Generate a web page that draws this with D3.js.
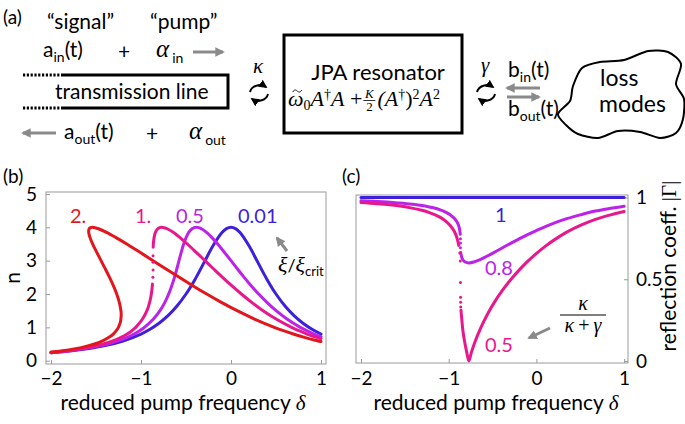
<!DOCTYPE html>
<html><head><meta charset="utf-8">
<script src="https://cdn.jsdelivr.net/npm/d3@7"></script>
<style>
body{margin:0;background:#fff;}
svg{display:block;}
text{font-family:Lato,"Open Sans",sans-serif;}
</style>
</head><body>
<svg id="chart" width="685" height="424"></svg>
<script>
// ---------------- DATA ----------------
const xTicks = [-2, -1, 0, 1];
const nTicks = [0, 1, 2, 3, 4, 5];
const gammaTicks = [0, 0.5, 1];
const gammaTickLabels = ["0", "0.5", "1"];
const xiLabels = ["0.01", "0.5", "1.", "2."];
const etaLabels = ["1", "0.8", "0.5"];

// panel (b): photon number n vs reduced pump frequency delta, [delta, n]
const nXi001 = [[-2.0,0.235],[-1.8,0.287],[-1.6,0.356],[-1.4,0.452],[-1.2,0.592],[-1.0,0.8],[-0.9,0.943],[-0.8,1.124],[-0.7,1.351],[-0.6,1.639],[-0.5,2.0],[-0.4,2.439],[-0.3,2.941],[-0.2,3.448],[-0.1,3.846],[-0.05,3.96],[0,4.0],[0.05,3.96],[0.1,3.846],[0.2,3.448],[0.3,2.941],[0.4,2.439],[0.5,2.0],[0.6,1.639],[0.7,1.351],[0.8,1.124],[0.9,0.943],[1.0,0.8]];
const nXi05 = [[-2.0,0.24],[-1.785,0.3],[-1.5385,0.4],[-1.371,0.5],[-1.248,0.6],[-1.153,0.7],[-1.077,0.8],[-1.015,0.9],[-0.962,1.0],[-0.862,1.25],[-0.789,1.5],[-0.735,1.75],[-0.6925,2.0],[-0.658,2.25],[-0.628,2.5],[-0.602,2.75],[-0.578,3.0],[-0.553,3.25],[-0.526,3.5],[-0.498,3.7],[-0.470,3.85],[-0.436,3.95],[-0.409,3.99],[-0.385,4.0],[-0.359,3.99],[-0.324,3.95],[-0.272,3.85],[-0.214,3.7],[-0.148,3.5],[-0.073,3.25],[0.0,3.0],[0.072,2.75],[0.146,2.5],[0.224,2.25],[0.3075,2.0],[0.399,1.75],[0.501,1.5],[0.622,1.25],[0.770,1.0],[0.841,0.9],[0.923,0.8],[1.0,0.72]];
const nXi1Lower = [[-2.0,0.245],[-1.814,0.3],[-1.577,0.4],[-1.419,0.5],[-1.306,0.6],[-1.221,0.7],[-1.154,0.8],[-1.101,0.9],[-1.0585,1.0],[-0.983,1.25],[-0.934,1.5],[-0.904,1.75],[-0.885,2.0],[-0.874,2.25],[-0.873,2.3]];
const nXi1Dots = [[-0.868,2.5],[-0.866,2.72],[-0.866,2.95],[-0.866,3.15]];
const nXi1Upper = [[-0.8645,3.4],[-0.863,3.5],[-0.854,3.7],[-0.840,3.85],[-0.816,3.95],[-0.793,3.99],[-0.77,4.0],[-0.743,3.99],[-0.704,3.95],[-0.642,3.85],[-0.570,3.7],[-0.485,3.5],[-0.386,3.25],[-0.289,3.0],[-0.192,2.75],[-0.094,2.5],[0.008,2.25],[0.115,2.0],[0.230,1.75],[0.356,1.5],[0.501,1.25],[0.6735,1.0],[0.755,0.9],[0.846,0.8],[0.951,0.7],[1.0,0.66]];
const nXi2 = [[-2.0,0.258],[-1.872,0.3],[-1.654,0.4],[-1.516,0.5],[-1.421,0.6],[-1.356,0.7],[-1.308,0.8],[-1.275,0.9],[-1.251,1.0],[-1.236,1.1],[-1.226,1.2],[-1.222,1.3],[-1.220,1.37],[-1.221,1.45],[-1.223,1.5],[-1.241,1.75],[-1.27,2.0],[-1.307,2.25],[-1.35,2.5],[-1.396,2.75],[-1.444,3.0],[-1.491,3.25],[-1.537,3.5],[-1.567,3.7],[-1.581,3.85],[-1.577,3.95],[-1.561,3.99],[-1.54,4.0],[-1.511,3.99],[-1.465,3.95],[-1.383,3.85],[-1.282,3.7],[-1.158,3.5],[-1.011,3.25],[-0.866,3.0],[-0.722,2.75],[-0.575,2.5],[-0.425,2.25],[-0.27,2.0],[-0.107,1.75],[0.068,1.5],[0.261,1.25],[0.481,1.0],[0.582,0.9],[0.692,0.8],[0.816,0.7],[0.959,0.6],[1.0,0.575]];

// panel (c): reflection coefficient |Gamma| vs delta, [delta, |Gamma|]
const gEta1 = [[-2.0,1.0],[1.0,1.0]];
const gEta08Lower = [[-2.0,0.980],[-1.814,0.976],[-1.577,0.967],[-1.419,0.959],[-1.306,0.951],[-1.221,0.942],[-1.154,0.934],[-1.101,0.925],[-1.0585,0.917],[-0.983,0.894],[-0.934,0.872],[-0.904,0.849],[-0.885,0.825],[-0.874,0.800],[-0.868,0.775]];
const gEta08Dots = [[-0.866,0.748],[-0.866,0.721],[-0.866,0.693]];
const gEta08Upper = [[-0.863,0.663],[-0.854,0.639],[-0.840,0.620],[-0.816,0.607],[-0.77,0.600],[-0.704,0.607],[-0.642,0.620],[-0.570,0.639],[-0.485,0.663],[-0.386,0.693],[-0.289,0.721],[-0.192,0.748],[-0.094,0.775],[0.008,0.800],[0.115,0.825],[0.230,0.849],[0.356,0.872],[0.501,0.894],[0.6735,0.917],[0.755,0.925],[0.846,0.934],[0.951,0.942],[1.0,0.946]];
const gEta05Lower = [[-2.0,0.969],[-1.814,0.962],[-1.577,0.949],[-1.419,0.935],[-1.306,0.922],[-1.221,0.908],[-1.154,0.894],[-1.101,0.880],[-1.0585,0.866],[-0.983,0.829],[-0.934,0.791],[-0.904,0.750],[-0.885,0.707]];
const gEta05Dots = [[-0.874,0.661],[-0.868,0.612],[-0.866,0.48],[-0.865,0.39],[-0.864,0.36],[-0.863,0.33]];
const gEta05Upper = [[-0.860,0.31],[-0.854,0.274],[-0.840,0.194],[-0.816,0.112],[-0.793,0.05],[-0.77,0.0],[-0.743,0.05],[-0.704,0.112],[-0.642,0.194],[-0.570,0.274],[-0.485,0.354],[-0.386,0.433],[-0.289,0.5],[-0.192,0.559],[-0.094,0.612],[0.008,0.661],[0.115,0.707],[0.230,0.75],[0.356,0.791],[0.501,0.829],[0.6735,0.866],[0.755,0.880],[0.846,0.894],[0.951,0.908],[1.0,0.914]];

// colours
const RED = "#e3151d", MAG = "#e8188c", PUR = "#bd22e8", BLU = "#3d1fdc", GRAY = "#8a8a8a", AX = "#9a9a9a";

// ---------------- DRAW ----------------
const svg = d3.select("#chart");
const defs = svg.append("defs");
function marker(id, color, size) {
  defs.append("marker").attr("id", id).attr("viewBox", "0 0 10 10").attr("refX", 8).attr("refY", 5)
    .attr("markerWidth", size).attr("markerHeight", size).attr("orient", "auto")
    .append("path").attr("d", "M0,0 L10,5 L0,10 z").attr("fill", color);
}
marker("gh", GRAY, 3.2);
marker("bh", "#000", 4.2);

const SERIF = "'Liberation Serif','DejaVu Serif',serif";

function rich(parent, x, y, parts, base) {
  const t = parent.append("text").attr("x", x).attr("y", y).attr("font-size", base.size).attr("fill", base.fill || "#000");
  if (base.anchor) t.attr("text-anchor", base.anchor);
  if (base.family) t.style("font-family", base.family);
  let cur = 0;
  parts.forEach(p => {
    const s = t.append("tspan").text(p.t);
    const off = p.off || 0;
    s.attr("dy", off - cur); cur = off;
    if (p.size) s.attr("font-size", p.size);
    if (p.italic) s.attr("font-style", "italic");
    if (p.family) s.style("font-family", p.family);
    if (p.dx) s.attr("dx", p.dx);
  });
  return t;
}
function arrow(x1, y1, x2, y2, col, id, w) {
  svg.append("line").attr("x1", x1).attr("y1", y1).attr("x2", x2).attr("y2", y2)
    .attr("stroke", col).attr("stroke-width", w || 3).attr("marker-end", "url(#" + id + ")");
}
function cycle(cx, cy) {
  const g = svg.append("g").attr("fill", "none").attr("stroke", "#000").attr("stroke-width", 2);
  g.append("path").attr("d", `M${cx-9},${cy+1} A10,8.5 0 0 1 ${cx+7},${cy-4}`).attr("marker-end", "url(#bh)");
  g.append("path").attr("d", `M${cx+9},${cy+3} A10,8.5 0 0 1 ${cx-7},${cy+8}`).attr("marker-end", "url(#bh)");
}

// ---- panel (a) ----
svg.append("text").attr("x", 3).attr("y", 24).attr("font-size", 19).text("(a)");
svg.append("text").attr("x", 47).attr("y", 29).attr("font-size", 21).text("\u201Csignal\u201D");
svg.append("text").attr("x", 150).attr("y", 29).attr("font-size", 21).text("\u201Cpump\u201D");
rich(svg, 43, 57, [{t:"a"},{t:"in",size:14,off:5},{t:"(t)",off:0}], {size:21});
svg.append("text").attr("x", 118).attr("y", 59).attr("font-size", 21).text("+");
rich(svg, 156, 57, [{t:"\u03B1",italic:true,family:SERIF,size:25},{t:"in",size:14,off:6,dx:3}], {size:21});
arrow(193, 52, 223, 52, GRAY, "gh");
// transmission line
const tl = svg.append("g").attr("stroke", "#000").attr("fill", "none");
tl.append("path").attr("d", "M62,75 H228 V108 H62").attr("stroke-width", 3);
tl.append("path").attr("d", "M23,75 H62 M23,108 H62").attr("stroke-width", 3).attr("stroke-dasharray", "2.2,1.6");
svg.append("text").attr("x", 55).attr("y", 99).attr("font-size", 21).text("transmission line");
arrow(56, 133, 23, 133, GRAY, "gh");
rich(svg, 64, 139, [{t:"a"},{t:"out",size:14,off:5},{t:"(t)",off:0}], {size:21});
svg.append("text").attr("x", 146).attr("y", 141).attr("font-size", 21).text("+");
rich(svg, 189, 139, [{t:"\u03B1",italic:true,family:SERIF,size:25},{t:"out",size:14,off:6,dx:3}], {size:21});
// coupling kappa
svg.append("text").attr("x", 253).attr("y", 73).attr("font-size", 21).attr("font-style", "italic").style("font-family", SERIF).text("\u03BA");
cycle(259, 91);
// JPA box
svg.append("rect").attr("x", 284).attr("y", 35).attr("width", 178).attr("height", 98).attr("fill", "none").attr("stroke", "#000").attr("stroke-width", 3);
svg.append("text").attr("x", 378).attr("y", 80).attr("font-size", 22).attr("text-anchor", "middle").text("JPA resonator");
// formula  omega~_0 A^dag A + K/2 (A^dag)^2 A^2
const FX = 288, FY = 106;
const f1 = rich(svg, FX, FY, [{t:"\u03C9",italic:true},{t:"0",size:14,off:4},{t:"A",italic:true,off:0},{t:"\u2020",size:14,off:-7},{t:"A",italic:true,off:0},{t:" + "}], {size:22, family:SERIF});
const wOmega = f1.select("tspan").node().getComputedTextLength();
const tx = FX + wOmega / 2 + 1.5, ty = FY - 15;
svg.append("path").attr("d", `M${tx-4.5},${ty+1} C${tx-3},${ty-2} ${tx-1},${ty-1} ${tx},${ty} S${tx+3},${ty+2} ${tx+4.5},${ty-1}`)
  .attr("fill", "none").attr("stroke", "#000").attr("stroke-width", 0.9);
const w1 = f1.node().getComputedTextLength();
const fx = FX + w1 + 1;
svg.append("text").attr("x", fx + 6).attr("y", FY - 8).attr("font-size", 13).attr("font-style", "italic").attr("text-anchor", "middle").style("font-family", SERIF).text("K");
svg.append("line").attr("x1", fx).attr("x2", fx + 12).attr("y1", FY - 5.5).attr("y2", FY - 5.5).attr("stroke", "#000").attr("stroke-width", 0.8);
svg.append("text").attr("x", fx + 6).attr("y", FY + 5).attr("font-size", 13).attr("text-anchor", "middle").style("font-family", SERIF).text("2");
rich(svg, fx + 14, FY, [{t:"(A",italic:true},{t:"\u2020",size:14,off:-7},{t:")",off:0},{t:"2",size:14,off:-7},{t:"A",italic:true,off:0},{t:"2",size:14,off:-7}], {size:22, family:SERIF});
// gamma coupling
svg.append("text").attr("x", 481).attr("y", 72).attr("font-size", 21).attr("font-style", "italic").style("font-family", SERIF).text("\u03B3");
cycle(486, 91);
rich(svg, 508, 77, [{t:"b"},{t:"in",size:14,off:5},{t:"(t)",off:0}], {size:21});
arrow(540, 88, 507, 88, GRAY, "gh");
arrow(507, 97, 539, 97, GRAY, "gh");
rich(svg, 508, 116, [{t:"b"},{t:"out",size:14,off:5},{t:"(t)",off:0}], {size:21});
// loss-mode cloud
const cloudPts = [[558,114],[570,101],[573,86],[582,68],[600,62],[624,60],[648,51],[668,52],[681,64],[676,84],[684,99],[683,119],[676,133],[660,138],[640,132],[618,131],[598,138],[578,134],[566,125]];
svg.append("path").attr("d", d3.line().curve(d3.curveCardinalClosed.tension(0.2))(cloudPts))
  .attr("fill", "none").attr("stroke", "#000").attr("stroke-width", 2);
svg.append("text").attr("x", 600).attr("y", 86).attr("font-size", 23).text("loss");
svg.append("text").attr("x", 599).attr("y", 112).attr("font-size", 23).text("modes");

// ---- shared axis helper ----
function styleAxis(g) {
  g.select(".domain").remove();
  g.selectAll(".tick line").attr("stroke", AX);
  g.selectAll(".tick text").attr("fill", "#000").attr("font-size", 19).style("font-family", "Lato,'Open Sans',sans-serif");
}
const fmtMinus = d => (d < 0 ? "\u2212" + Math.abs(d) : String(d));

// ---- panel (b) ----
const xb = d3.scaleLinear().domain([-2, 1]).range([51, 321]);
const yb = d3.scaleLinear().domain([0, 5]).range([360.7, 194]);
svg.append("text").attr("x", 3).attr("y", 183).attr("font-size", 19).text("(b)");
svg.append("rect").attr("x", 46).attr("y", 192).attr("width", 280).attr("height", 172).attr("fill", "none").attr("stroke", AX);
svg.append("g").attr("transform", "translate(0,364)")
  .call(d3.axisBottom(xb).tickValues(xTicks).tickSizeInner(-4).tickSizeOuter(0).tickPadding(8).tickFormat(fmtMinus)).call(styleAxis);
svg.append("g").attr("transform", "translate(46,0)")
  .call(d3.axisLeft(yb).tickValues(nTicks).tickSizeInner(-4).tickSizeOuter(0).tickPadding(9).tickFormat(d3.format("d"))).call(styleAxis);
const lineB = d3.line().x(d => xb(d[0])).y(d => yb(d[1])).curve(d3.curveCatmullRom.alpha(0.5));
const pb = svg.append("g").attr("fill", "none").attr("stroke-width", 3).attr("stroke-linecap", "round");
pb.append("path").attr("d", lineB(nXi001)).attr("stroke", BLU);
pb.append("path").attr("d", lineB(nXi05)).attr("stroke", PUR);
pb.append("path").attr("d", lineB(nXi1Lower)).attr("stroke", MAG);
pb.append("path").attr("d", lineB(nXi1Upper)).attr("stroke", MAG);
svg.append("g").selectAll("circle").data(nXi1Dots).join("circle")
  .attr("cx", d => xb(d[0])).attr("cy", d => yb(d[1])).attr("r", 1.5).attr("fill", MAG);
pb.append("path").attr("d", lineB(nXi2)).attr("stroke", RED);
const lb = svg.append("g").attr("font-size", 20);
lb.append("text").attr("x", 238).attr("y", 223).attr("fill", BLU).text(xiLabels[0]);
lb.append("text").attr("x", 176).attr("y", 223).attr("fill", PUR).text(xiLabels[1]);
lb.append("text").attr("x", 135).attr("y", 223).attr("fill", MAG).text(xiLabels[2]);
lb.append("text").attr("x", 70).attr("y", 223).attr("fill", RED).text(xiLabels[3]);
arrow(287, 251, 277, 238, GRAY, "gh");
rich(svg, 278, 272, [{t:"\u03BE",italic:true,family:SERIF},{t:"/",size:18},{t:"\u03BE",italic:true,family:SERIF},{t:"crit",size:13,off:4,family:"Lato,sans-serif"}], {size:22});
svg.append("text").attr("transform", "translate(20,278) rotate(-90)").attr("text-anchor", "middle").attr("font-size", 21).text("n");
rich(svg, 183, 410, [{t:"reduced pump frequency "},{t:"\u03B4",italic:true,family:SERIF}], {size:21, anchor:"middle"});

// ---- panel (c) ----
const xc = d3.scaleLinear().domain([-2, 1]).range([361, 624.1]);
const yc = d3.scaleLinear().domain([0, 1]).range([361, 197.5]);
svg.append("text").attr("x", 342).attr("y", 183).attr("font-size", 19).text("(c)");
svg.append("rect").attr("x", 356).attr("y", 195).attr("width", 272).attr("height", 168).attr("fill", "none").attr("stroke", AX);
svg.append("g").attr("transform", "translate(0,363)")
  .call(d3.axisBottom(xc).tickValues(xTicks).tickSizeInner(-4).tickSizeOuter(0).tickPadding(9).tickFormat(fmtMinus)).call(styleAxis);
svg.append("g").attr("transform", "translate(628,0)")
  .call(d3.axisRight(yc).tickValues(gammaTicks).tickSizeInner(-4).tickSizeOuter(0).tickPadding(8).tickFormat((d, i) => gammaTickLabels[i])).call(styleAxis);
const lineC = d3.line().x(d => xc(d[0])).y(d => yc(d[1])).curve(d3.curveMonotoneX);
const pc = svg.append("g").attr("fill", "none").attr("stroke-width", 3).attr("stroke-linecap", "round");
pc.append("path").attr("d", lineC(gEta1)).attr("stroke", BLU);
pc.append("path").attr("d", lineC(gEta08Lower)).attr("stroke", PUR);
pc.append("path").attr("d", lineC(gEta08Upper)).attr("stroke", PUR);
pc.append("path").attr("d", lineC(gEta05Lower)).attr("stroke", MAG);
pc.append("path").attr("d", lineC(gEta05Upper)).attr("stroke", MAG);
svg.append("g").selectAll("circle").data(gEta08Dots).join("circle")
  .attr("cx", d => xc(d[0])).attr("cy", d => yc(d[1])).attr("r", 1.5).attr("fill", PUR);
svg.append("g").selectAll("circle").data(gEta05Dots).join("circle")
  .attr("cx", d => xc(d[0])).attr("cy", d => yc(d[1])).attr("r", 1.5).attr("fill", MAG);
const lc = svg.append("g").attr("font-size", 20);
lc.append("text").attr("x", 495).attr("y", 222).attr("fill", BLU).text(etaLabels[0]);
lc.append("text").attr("x", 485).attr("y", 275).attr("fill", PUR).text(etaLabels[1]);
lc.append("text").attr("x", 485).attr("y", 352).attr("fill", MAG).text(etaLabels[2]);
// kappa/(kappa+gamma)
svg.append("text").attr("x", 583).attr("y", 310).attr("font-size", 20).attr("font-style", "italic").attr("text-anchor", "middle").style("font-family", SERIF).text("\u03BA");
svg.append("line").attr("x1", 560).attr("x2", 606).attr("y1", 315).attr("y2", 315).attr("stroke", "#000").attr("stroke-width", 1);
rich(svg, 583, 332, [{t:"\u03BA",italic:true},{t:"\u2009+\u2009"},{t:"\u03B3",italic:true}], {size:20, family:SERIF, anchor:"middle"});
arrow(550, 328, 529, 338, GRAY, "gh");
rich(svg, 496, 410, [{t:"reduced pump frequency "},{t:"\u03B4",italic:true,family:SERIF}], {size:21, anchor:"middle"});
rich(svg, 0, 0, [{t:"reflection coeff. "},{t:"|\u0393|",family:SERIF}], {size:21, anchor:"middle"})
  .attr("transform", "translate(676,266) rotate(-90)");
</script>
</body></html>
